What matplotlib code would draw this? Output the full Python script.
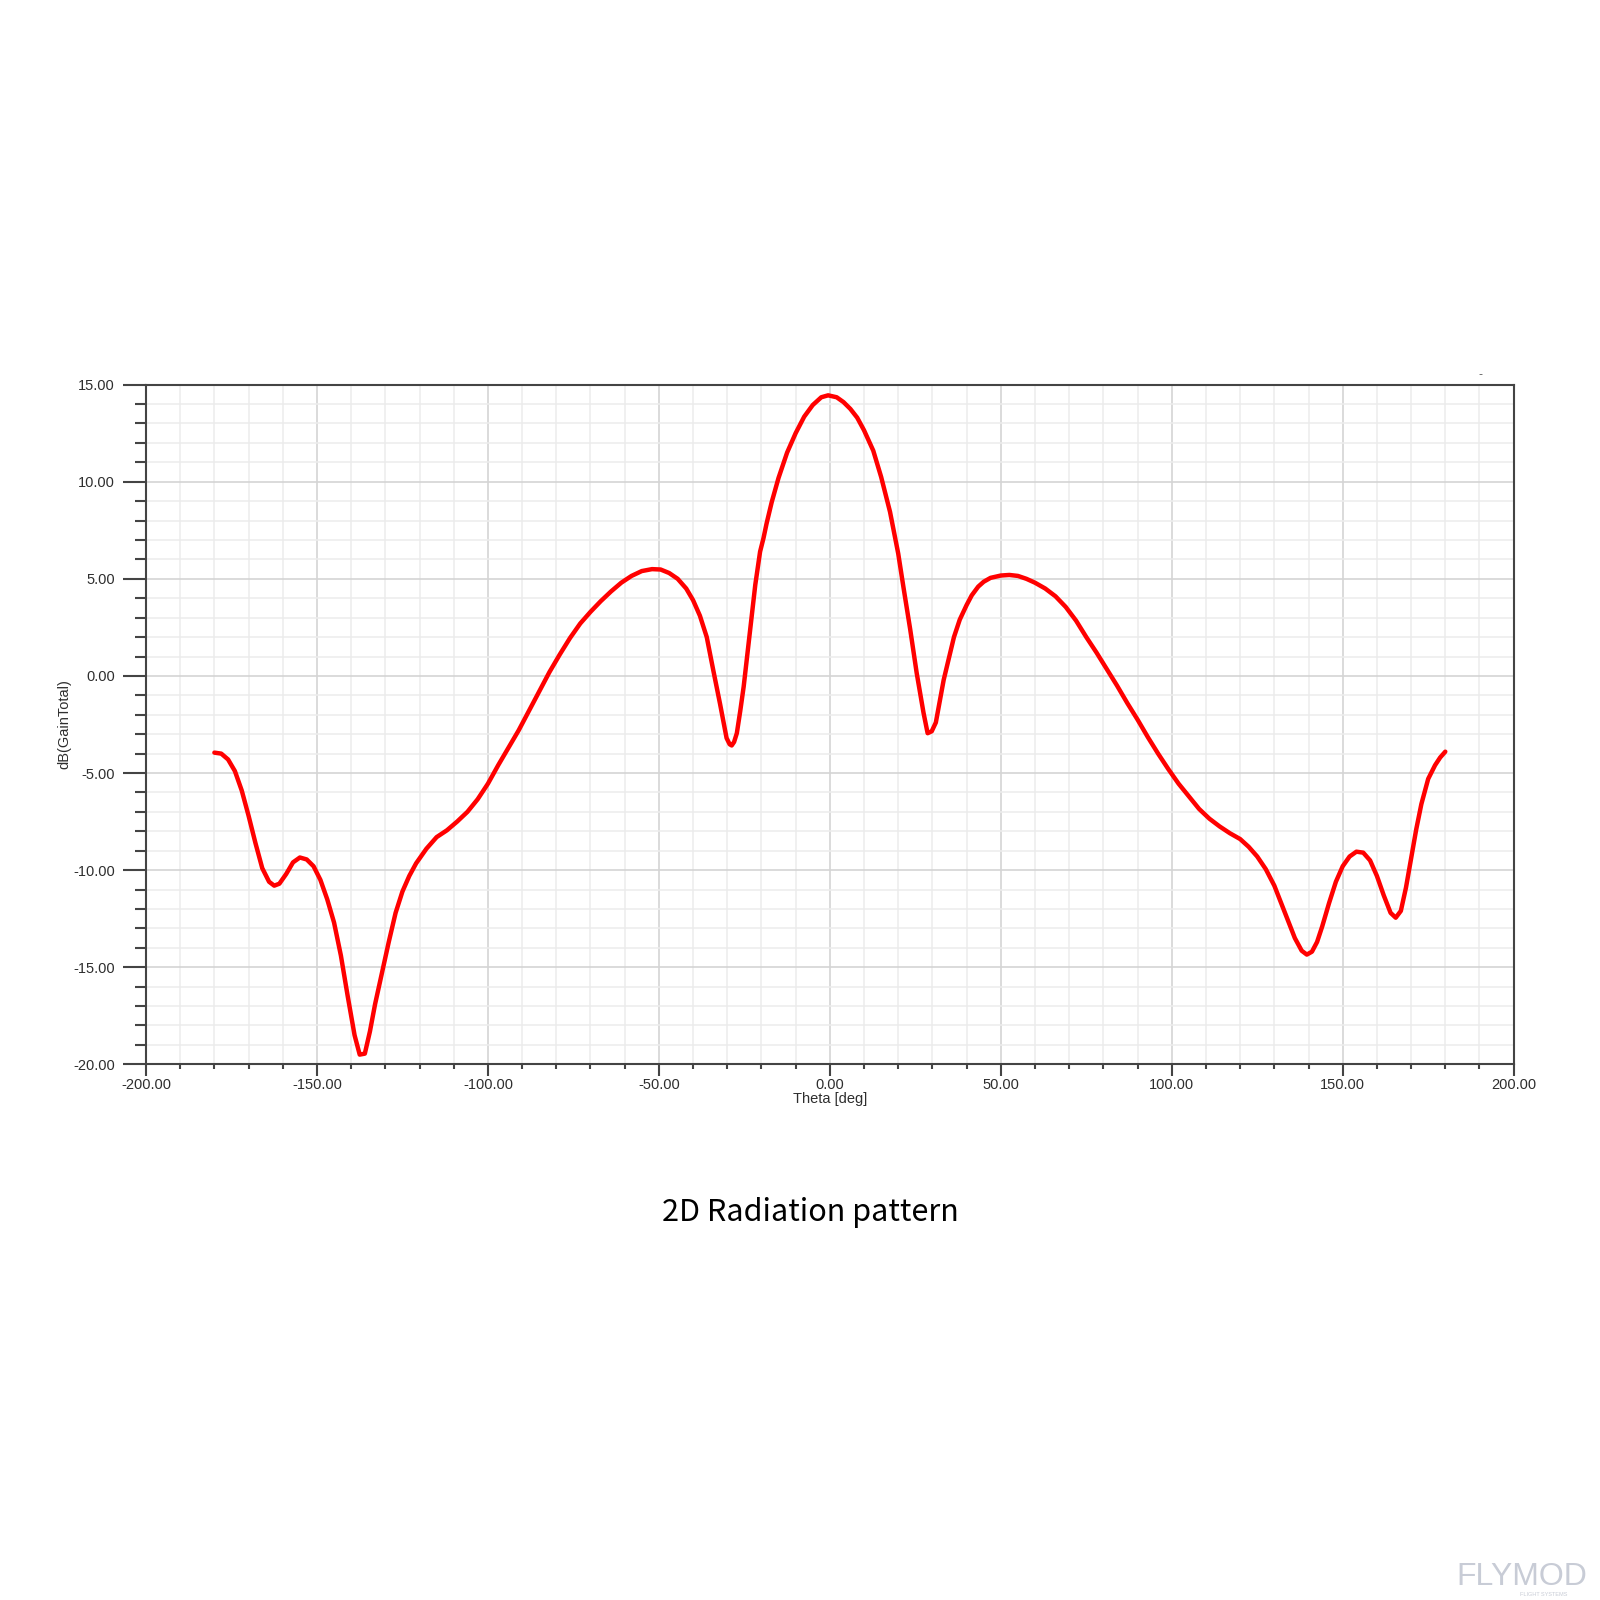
import numpy as np
import matplotlib
matplotlib.use("Agg")
import matplotlib.pyplot as plt
from matplotlib.ticker import MultipleLocator, FormatStrFormatter

# Theta [deg] and gain [dB]
theta = [-180, -178, -176, -174, -172, -170, -168, -166, -164, -162.5, -161,
         -159, -157, -155, -153, -151, -149, -147, -145, -143, -141, -139,
         -137.5, -136, -134.5, -133, -131, -129, -127, -125, -123, -121,
         -118, -115, -112, -109, -106, -103, -100, -97, -94, -91, -88, -85,
         -82, -79, -76, -73, -70, -67, -64, -61, -58, -55, -52, -49.5, -47,
         -44.5, -42, -40, -38, -36, -34.1, -32.1, -30.2, -29.3, -28.7, -28,
         -27.2, -26.2, -25.2, -24.2, -23.2, -21.8, -20.4, -19.4, -18.5, -17,
         -15, -12.5, -10, -7.5, -5, -2.5, -0.5, 2, 4, 6, 8, 10, 12.7, 15, 17.6,
         20, 21.5, 23.5, 25.4, 27.4, 28.6, 29.8, 31, 33.3, 36.3, 38, 40, 41.5,
         43.4, 45, 47, 50, 52.5, 55, 57.5, 60, 63, 66, 69, 72, 75, 78, 81, 84,
         87, 90, 93, 96, 99, 102, 105, 108, 111, 114, 117, 120, 122.5, 125,
         127.5, 130, 132, 134, 136, 138, 139.5, 141, 142.5, 144, 146, 148,
         150, 152, 154, 156, 158, 160, 162, 164, 165.5, 167, 168.5, 170,
         171.5, 173, 175, 177, 178.5, 180]
gain_db = [-3.95, -4.0, -4.3, -4.9, -5.9, -7.2, -8.6, -9.9, -10.6, -10.8, -10.7,
           -10.2, -9.6, -9.35, -9.45, -9.8, -10.5, -11.5, -12.7, -14.4, -16.5, -18.5,
           -19.5, -19.45, -18.3, -16.9, -15.3, -13.7, -12.2, -11.1, -10.3, -9.65,
           -8.9, -8.3, -7.95, -7.5, -7.0, -6.35, -5.55, -4.6, -3.7, -2.8, -1.8, -0.8,
           0.2, 1.1, 1.95, 2.7, 3.3, 3.85, 4.35, 4.8, 5.15, 5.4, 5.5, 5.48, 5.3,
           5.0, 4.5, 3.9, 3.1, 2.0, 0.3, -1.45, -3.2, -3.52, -3.58, -3.4,
           -2.95, -1.8, -0.55, 1.0, 2.5, 4.7, 6.4, 7.1, 7.85, 8.95,
           10.2, 11.5, 12.5, 13.35, 13.95, 14.35, 14.45, 14.35, 14.1, 13.75, 13.3, 12.65, 11.6,
           10.25, 8.45,
           6.3, 4.6, 2.4, 0.15, -1.9, -2.95, -2.85, -2.4, -0.2, 2.0, 2.9, 3.65, 4.15,
           4.6, 4.85, 5.05, 5.17, 5.2, 5.15, 5.0, 4.8, 4.5, 4.1, 3.55, 2.85, 2.0, 1.2, 0.35, -0.5,
           -1.4, -2.25, -3.15, -4.0, -4.8, -5.55, -6.2, -6.85, -7.35, -7.75, -8.1, -8.4, -8.8, -9.3,
           -9.95, -10.8, -11.7, -12.6, -13.5, -14.15, -14.35, -14.2, -13.7, -12.9, -11.7, -10.6,
           -9.8, -9.3, -9.05, -9.1, -9.5, -10.3, -11.3, -12.2, -12.45, -12.1, -10.9, -9.4,
           -7.9, -6.6, -5.3, -4.6, -4.2, -3.9]

tick_color = '#2e2e2e'

fig = plt.figure(figsize=(16, 16), dpi=100)
ax = fig.add_axes([0.09125, 0.3348, 0.8548, 0.4248])

ax.plot(theta, gain_db, color='#ff0000', lw=3.2, solid_joinstyle='round',
        solid_capstyle='round')

ax.set_xlim(-200, 200)
ax.set_ylim(-20, 15)
ax.xaxis.set_major_locator(MultipleLocator(50))
ax.xaxis.set_minor_locator(MultipleLocator(10))
ax.yaxis.set_major_locator(MultipleLocator(5))
ax.yaxis.set_minor_locator(MultipleLocator(1))
ax.xaxis.set_major_formatter(FormatStrFormatter('%.2f'))
ax.yaxis.set_major_formatter(FormatStrFormatter('%.2f'))

ax.grid(which='major', color='#d4d4d4', lw=1.2)
ax.grid(which='minor', color='#ececec', lw=1.1)
ax.set_axisbelow(True)

for s in ax.spines.values():
    s.set_color('#444444')
    s.set_linewidth(1.5)

ax.tick_params(axis='y', which='major', length=16.5, width=1.5, color='#444444',
               labelsize=10.5, labelcolor=tick_color, pad=6)
ax.tick_params(axis='y', which='minor', length=8, width=1.5, color='#444444')
ax.tick_params(axis='x', which='major', length=8.5, width=1.5, color='#444444',
               labelsize=10.5, labelcolor=tick_color, pad=1)
ax.tick_params(axis='x', which='minor', length=3.6, width=1.5, color='#444444')
for lbl in ax.get_xticklabels() + ax.get_yticklabels():
    lbl.set_family('Liberation Sans')

ax.set_xlabel('Theta [deg]', family='Liberation Sans', fontsize=10.5,
              color=tick_color, labelpad=0)
ax.set_ylabel('dB(GainTotal)', family='Liberation Sans', fontsize=10.5,
              color=tick_color, labelpad=1)

fig.text(0.5065, 1 - 1213 / 1600, '2D Radiation pattern', ha='center', va='center',
         fontsize=22, weight='medium', family=['Noto Sans CJK SC', 'DejaVu Sans'],
         color='black')
fig.text(0.925, 1 - 374 / 1600, '-', ha='center', va='center', fontsize=8, color='#555555')

# faint watermark in the corner
fig.text(0.992, 1 - 1577 / 1600, 'FLYMOD', ha='right', va='center', fontsize=23,
         family='Liberation Sans', color='#c8ccd6')
fig.text(0.965, 1 - 1594 / 1600, 'FLIGHT SYSTEMS', ha='center', va='center', fontsize=4,
         family='Liberation Sans', color='#c8ccd6')

fig.savefig('out.png', dpi=100, facecolor='white')
